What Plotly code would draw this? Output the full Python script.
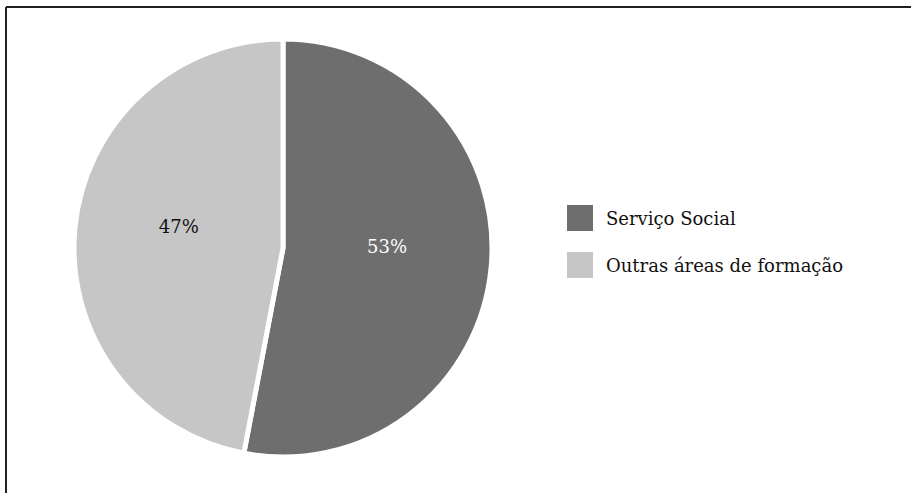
import plotly.graph_objects as go

labels = ["Serviço Social", "Outras áreas de formação"]
values = [53, 47]
colors = ["#6e6e6e", "#c6c6c6"]
text_colors = ["#ffffff", "#111111"]

W, H = 911, 493
FONT = "DejaVu Serif"

def px(x):
    return x / W

def py(y):
    return 1 - y / H

fig = go.Figure()
fig.add_trace(go.Pie(
    labels=labels,
    values=values,
    sort=False,
    direction="clockwise",
    rotation=0,
    marker=dict(colors=colors, line=dict(color="#ffffff", width=5)),
    textinfo="percent",
    texttemplate="%{percent:.0%}<br> ",
    textposition="inside",
    insidetextfont=dict(color=text_colors, family=FONT, size=18),
    domain=dict(x=[px(74), px(492)], y=[py(457), py(39)]),
    showlegend=False,
    hoverinfo="label+percent",
))

shapes = [
    dict(type="line", xref="paper", yref="paper", x0=px(6), y0=py(7), x1=1.01, y1=py(7),
         line=dict(color="#222222", width=2)),
    dict(type="line", xref="paper", yref="paper", x0=px(6), y0=py(7), x1=px(6), y1=-0.01,
         line=dict(color="#222222", width=2)),
]
annotations = []
legend_y = [218, 265]
for i, lab in enumerate(labels):
    cy = legend_y[i]
    shapes.append(dict(type="rect", xref="paper", yref="paper",
                       x0=px(567), x1=px(593), y0=py(cy - 13), y1=py(cy + 13),
                       fillcolor=colors[i], line=dict(width=0)))
    annotations.append(dict(xref="paper", yref="paper", x=px(604), y=py(cy),
                            xanchor="left", yanchor="middle", text=lab, showarrow=False,
                            font=dict(family=FONT, size=18, color="#111111")))

fig.update_layout(
    width=W, height=H,
    margin=dict(l=0, r=0, t=0, b=0),
    paper_bgcolor="#ffffff",
    plot_bgcolor="#ffffff",
    shapes=shapes,
    annotations=annotations,
    font=dict(family=FONT, size=18),
)

fig.write_html("out.html")
